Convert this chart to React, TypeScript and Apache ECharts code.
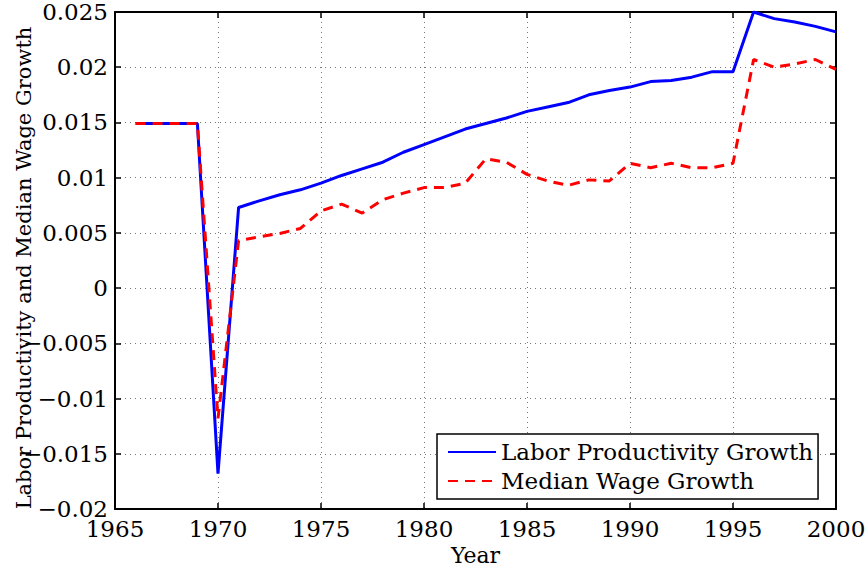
import React, { useEffect, useRef } from "react";
import * as echarts from "echarts";

const years = [
  1966, 1967, 1968, 1969, 1970, 1971, 1972, 1973, 1974, 1975, 1976, 1977,
  1978, 1979, 1980, 1981, 1982, 1983, 1984, 1985, 1986, 1987, 1988, 1989,
  1990, 1991, 1992, 1993, 1994, 1995, 1996, 1997, 1998, 1999, 2000,
];

const productivityGrowth = [
  0.0149, 0.0149, 0.0149, 0.0149, -0.0168, 0.0073, 0.0079, 0.00845, 0.0089,
  0.0095, 0.0102, 0.0108, 0.0114, 0.0123, 0.013, 0.0137, 0.0144, 0.0149,
  0.0154, 0.016, 0.0164, 0.0168, 0.0175, 0.0179, 0.0182, 0.0187, 0.0188,
  0.0191, 0.0196, 0.0196, 0.025, 0.0244, 0.0241, 0.0237, 0.0232,
];

const medianWageGrowth = [
  0.0149, 0.0149, 0.0149, 0.0149, -0.0118, 0.0043, 0.00465, 0.00495, 0.0054,
  0.007, 0.0076, 0.0068, 0.008, 0.0086, 0.0091, 0.0091, 0.0095, 0.0117,
  0.0114, 0.0103, 0.0097, 0.0093, 0.0098, 0.0097, 0.0113, 0.0109, 0.0113,
  0.0109, 0.0109, 0.0113, 0.0207, 0.02, 0.0203, 0.0207, 0.0198,
];

const seriesNames = ["Labor Productivity Growth", "Median Wage Growth"];
const xTitle = "Year";
const yTitle = "Labor Productivity and Median Wage Growth";

const FONT = "DejaVu Serif";

function fmtY(v: number): string {
  const s = parseFloat(v.toFixed(3)).toString();
  return s.replace("-", "\u2212");
}

export default function App() {
  const ref = useRef<HTMLDivElement>(null);

  useEffect(() => {
    if (!ref.current) return;
    const chart = echarts.init(ref.current, undefined, { renderer: "svg" });
    const axisLine = { show: true, onZero: false, lineStyle: { color: "#000", width: 2 } };
    const tick = { show: true, inside: true, length: 6, lineStyle: { color: "#000", width: 1.5 } };
    const grid = { show: true, lineStyle: { color: "#777", width: 1, type: [1, 4] as any } };
    chart.setOption({
      animation: false,
      backgroundColor: "#fff",
      grid: { left: 115, right: 32, top: 12, bottom: 58, outerBoundsMode: "none", containLabel: false },
      xAxis: [
        {
          type: "value",
          min: 1965,
          max: 2000,
          interval: 5,
          name: xTitle,
          nameLocation: "middle",
          nameGap: 31,
          nameTextStyle: { fontFamily: FONT, fontSize: 22, lineHeight: 20, color: "#000" },
          axisLine,
          axisTick: tick,
          splitLine: grid,
          axisLabel: {
            margin: 8,
            fontFamily: FONT,
            fontSize: 23,
            color: "#000",
            formatter: (v: number) => String(v),
          },
        },
        {
          type: "value",
          position: "top",
          min: 1965,
          max: 2000,
          interval: 5,
          axisLine,
          axisTick: tick,
          splitLine: { show: false },
          axisLabel: { show: false },
        },
      ],
      yAxis: [
        {
          type: "value",
          min: -0.02,
          max: 0.025,
          interval: 0.005,
          axisLine,
          axisTick: tick,
          splitLine: grid,
          axisLabel: {
            margin: 7,
            fontFamily: FONT,
            fontSize: 23,
            color: "#000",
            formatter: fmtY,
          },
        },
        {
          type: "value",
          position: "right",
          min: -0.02,
          max: 0.025,
          interval: 0.005,
          axisLine,
          axisTick: tick,
          splitLine: { show: false },
          axisLabel: { show: false },
        },
      ],
      graphic: [
        {
          type: "text",
          x: 24,
          y: 268,
          rotation: Math.PI / 2,
          style: {
            text: yTitle,
            fontFamily: FONT,
            fontSize: 21,
            fill: "#000",
            align: "center",
            verticalAlign: "middle",
          },
        },
      ],
      legend: {
        left: 437,
        top: 434,
        orient: "vertical",
        backgroundColor: "#fff",
        borderColor: "#000",
        borderWidth: 1.5,
        borderRadius: 0,
        padding: [6, 5, 6, 10],
        itemGap: 5,
        itemWidth: 48,
        itemHeight: 14,
        itemStyle: { opacity: 0 },
        textStyle: { fontFamily: FONT, fontSize: 23, color: "#000", lineHeight: 24 },
        data: seriesNames,
      },
      series: [
        {
          name: seriesNames[0],
          type: "line",
          xAxisIndex: 0,
          yAxisIndex: 0,
          symbol: "none",
          data: years.map((y, i) => [y, productivityGrowth[i]]),
          lineStyle: { color: "#0000ff", width: 3 },
          itemStyle: { color: "#0000ff" },
          z: 2,
        },
        {
          name: seriesNames[1],
          type: "line",
          xAxisIndex: 0,
          yAxisIndex: 0,
          symbol: "none",
          data: years.map((y, i) => [y, medianWageGrowth[i]]),
          lineStyle: { color: "#ff0000", width: 3, type: [10, 7] },
          itemStyle: { color: "#ff0000" },
          z: 3,
        },
      ],
    });
    return () => chart.dispose();
  }, []);

  return (
    <div
      ref={ref}
      style={{ position: "fixed", left: 0, top: 0, width: 868, height: 567, background: "#fff" }}
    />
  );
}
